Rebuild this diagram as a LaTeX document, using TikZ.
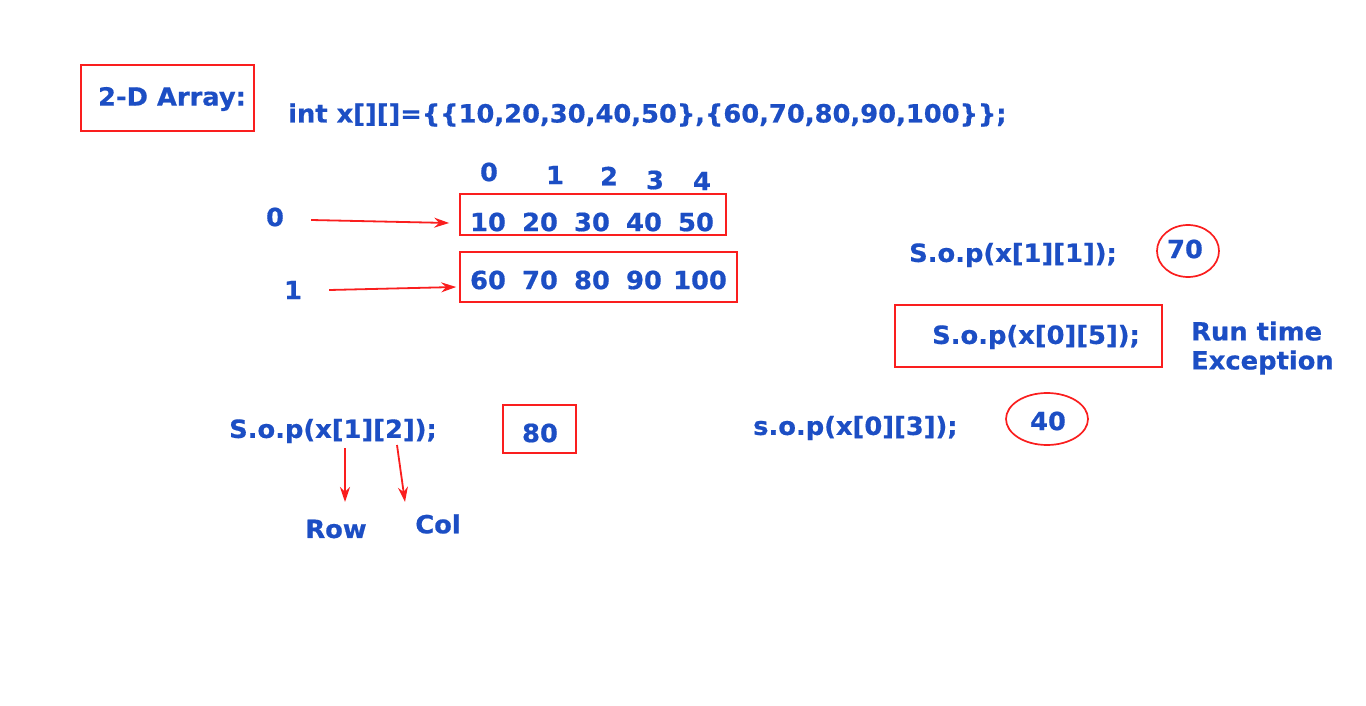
\documentclass[tikz,border=0pt]{standalone}
\usepackage{fontspec}
\setmainfont{DejaVu Sans}[FakeStretch=1.03,FakeBold=0.6]
\usetikzlibrary{arrows.meta}
\definecolor{codeblue}{RGB}{28,78,196}
\definecolor{markred}{RGB}{250,30,30}
\tikzset{
  txt/.style={text=codeblue,font=\fontsize{25}{29}\selectfont\bfseries,inner sep=0pt},
  redbox/.style={draw=markred,line width=1.7pt,rectangle},
  redring/.style={draw=markred,line width=1.7pt,ellipse},
  pointer/.style={draw=markred,line width=1.8pt,-{Stealth[length=15pt,width=10pt,inset=5pt]}}
}
\usetikzlibrary{shapes.geometric}
\begin{document}
\begin{tikzpicture}[x=1pt,y=-1pt]
  \useasboundingbox (0,0) rectangle (1366,706);
  \fill[white] (0,0) rectangle (1366,706);
  \node[redbox,minimum width=173pt,minimum height=66pt] (title) at (167.5,98) {};
  \node[txt] at (172,99) {2-D Array:};
  \node[txt,anchor=west] (decl) at (288,115) {int x[][]=\{\{10,20,30,40,50\},\{60,70,80,90,100\}\};};
  % column indices
  \foreach \c/\x/\y in {0/489/172,1/555/175,2/609/176,3/655/180,4/702/181}
    \node[txt] (col\c) at (\x,\y) {\c};
  % the two rows
  \node[redbox,minimum width=266pt,minimum height=41pt] (row0) at (593,214.5) {};
  \node[redbox,minimum width=277pt,minimum height=50pt] (row1) at (598.5,277) {};
  \foreach \v/\x in {10/488,20/540,30/592,40/644,50/696}
    \node[txt] at (\x,222) {\v};
  \foreach \v/\x in {60/488,70/540,80/592,90/644,100/700}
    \node[txt] at (\x,280) {\v};
  \node[txt] (r0) at (275,217) {0};
  \node[txt] (r1) at (293,290) {1};
  \draw[pointer] ([xshift=27pt,yshift=-3pt]r0.east) -- ([xshift=-10pt,yshift=-8.5pt]row0.west);
  \draw[pointer] ([xshift=27pt]r1.east) -- ([xshift=-3pt,yshift=-10pt]row1.west);
  % examples on the right
  \node[txt,anchor=west] (e11) at (909,255) {S.o.p(x[1][1]);};
  \node[redring,minimum width=62pt,minimum height=52pt] (a11) at (1188,251) {};
  \node[txt] at (1185,249) {70};
  \node[redbox,minimum width=267pt,minimum height=62pt] (e05) at (1028.5,336) {};
  \node[txt] at (1036,337) {S.o.p(x[0][5]);};
  \node[txt,anchor=west,align=left] (a05) at (1191,348) {Run time\\Exception};
  \node[txt,anchor=west] (e03) at (753,428) {s.o.p(x[0][3]);};
  \node[redring,minimum width=82pt,minimum height=52pt] (a03) at (1047,419) {};
  \node[txt] at (1048,421) {40};
  % row / column
  \node[txt,anchor=west] (e12) at (229,431) {S.o.p(x[1][2]);};
  \node[redbox,minimum width=73pt,minimum height=48pt] (a12) at (539.5,429) {};
  \node[txt] at (540,433) {80};
  \coordinate (rowtop) at (345,448);
  \coordinate (coltop) at (397,445);
  \node[txt] (rowlbl) at (336,529) {Row};
  \node[txt] (collbl) at (438,524) {Col};
  \draw[pointer] (rowtop) -- (345,502);
  \draw[pointer] (coltop) -- (405,502);
\end{tikzpicture}
\end{document}
